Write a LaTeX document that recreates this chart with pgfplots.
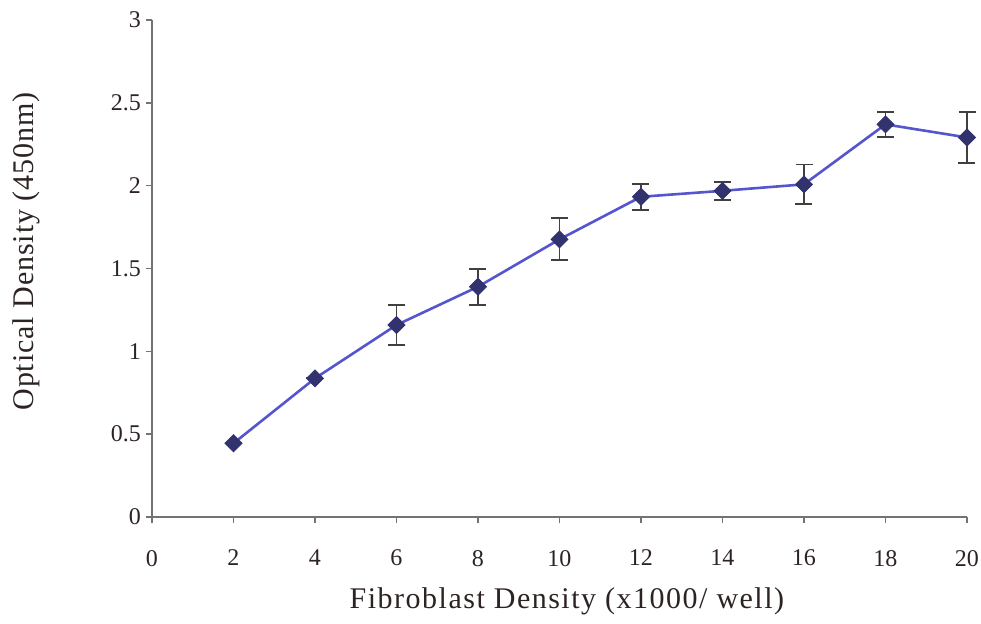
\documentclass[border=0pt]{standalone}
\usepackage{fontspec}
\setmainfont{Liberation Serif}
\usepackage{pgfplots}
\pgfplotsset{compat=1.18}
\definecolor{odline}{RGB}{85,85,205}
\definecolor{odmark}{RGB}{50,50,110}
\definecolor{axgray}{RGB}{115,115,115}
\definecolor{txt}{RGB}{45,35,35}
\begin{document}
\begin{tikzpicture}
\useasboundingbox (-76pt,-53pt) rectangle (414.5pt,258.5pt);
\begin{axis}[
  scale only axis, width=407.5pt, height=248.5pt,
  xmin=0, xmax=20, ymin=0, ymax=3,
  xtick={0,2,...,20}, ytick={0,0.5,1,1.5,2,2.5,3},
  axis lines=left, axis line style={-, axgray, line width=0.8pt},
  tick align=outside, major tick length=3pt,
  tick style={axgray, line width=0.7pt},
  /pgf/number format/assume math mode=true,
  ticklabel style={font=\fontsize{12}{14}\selectfont, text=txt},
  xticklabel style={yshift=-10pt},
  yticklabel style={xshift=1pt},
  xlabel={Fibroblast Density (x1000/ well)},
  ylabel={Optical Density (450nm)},
  xlabel style={font=\fontsize{15}{17}\selectfont\addfontfeatures{LetterSpace=5}, text=txt,
    at={(axis description cs:0.5,0)}, anchor=north, inner sep=0pt, yshift=-35pt, xshift=3.7pt},
  ylabel style={font=\fontsize{15}{17}\selectfont\addfontfeatures{LetterSpace=3}, text=txt,
    at={(axis description cs:0,0.5)}, anchor=north, inner sep=0pt, yshift=70pt, xshift=8.5pt},
  clip=false,
]
\addplot[odline, line width=1.3pt,
  mark=square*, mark size=3pt,
  mark options={rotate=45, fill=odmark, draw=odmark, line width=0.4pt},
  error bars/.cd, y dir=both, y explicit,
  error bar style={black!75, line width=0.9pt},
  error mark options={rotate=90, mark size=4.25pt, black!75, line width=0.9pt}]
coordinates {
  (2,0.445) +- (0,0)
  (4,0.837) +- (0,0)
  (6,1.159) +- (0,0.120)
  (8,1.390) +- (0,0.108)
  (10,1.676) +- (0,0.127)
  (12,1.933) +- (0,0.078)
  (14,1.969) +- (0,0.055)
  (16,2.008) +- (0,0.120)
  (18,2.370) +- (0,0.077)
  (20,2.291) +- (0,0.154)
};
\end{axis}
\end{tikzpicture}
\end{document}
